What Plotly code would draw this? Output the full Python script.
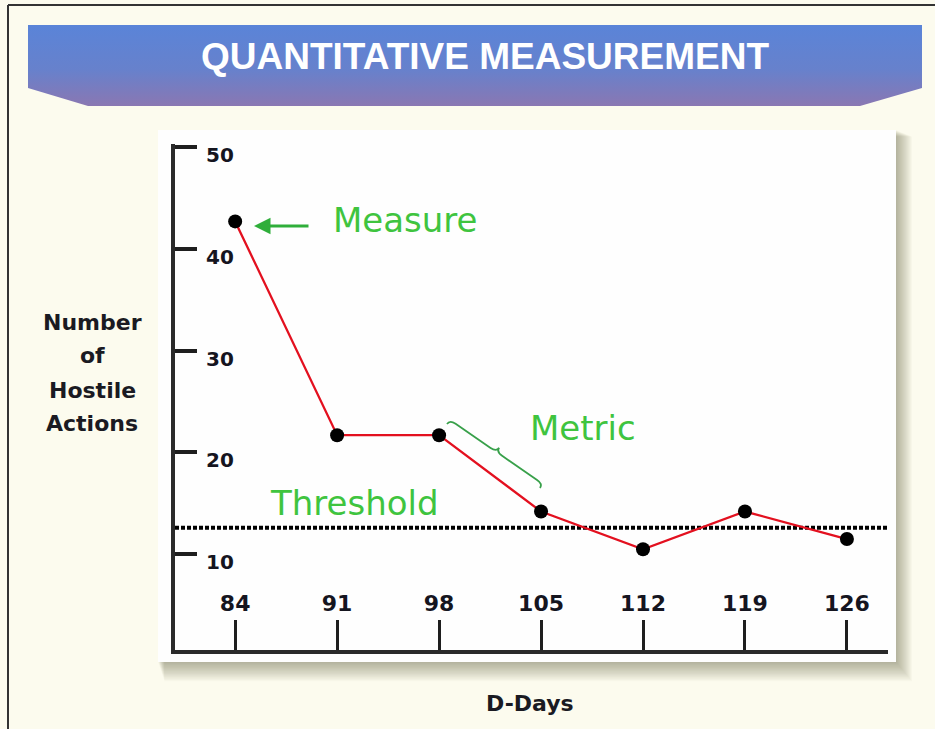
import math
import plotly.graph_objects as go

W, H = 935, 729

# ---------------- data ----------------
days = [84, 91, 98, 105, 112, 119, 126]
hostile_actions = [42.7, 21.7, 21.7, 14.2, 10.5, 14.2, 11.5]
threshold = 12.6
y_ticks = [10, 20, 30, 40, 50]

title_text = "QUANTITATIVE MEASUREMENT"
y_title_lines = ["Number", "of", "Hostile", "Actions"]
x_title = "D-Days"
label_measure = "Measure"
label_metric = "Metric"
label_threshold = "Threshold"

# ---------------- helpers (pixel -> paper) ----------------
def px(x):
    return x / W


def py(y):
    return 1 - y / H


L, R, T, B = 175, 888, 144, 650  # plot area in pixels

GREEN = "#3fc43f"
TXT = "#15151f"

fig = go.Figure()

# data line
fig.add_trace(go.Scatter(
    x=days, y=hostile_actions, mode="lines+markers",
    line=dict(color="#e3101f", width=2.3),
    marker=dict(color="black", size=14),
    xaxis="x", yaxis="y", showlegend=False, hoverinfo="skip",
))

# banner (decoration, overlay axes in pixel units)
banner_x = [28, 922, 922, 860, 88, 28, 28]
banner_y = [25, 25, 88, 106, 106, 88, 25]
fig.add_trace(go.Scatter(
    x=banner_x, y=banner_y, fill="toself", mode="lines",
    line=dict(width=0, color="rgba(0,0,0,0)"),
    fillgradient=dict(type="vertical",
                      colorscale=[[0, "#5a84d8"], [0.55, "#6781cc"], [1, "#8a77b2"]],
                      start=25, stop=106),
    xaxis="x2", yaxis="y2", showlegend=False, hoverinfo="skip",
))

shapes = []
# frame lines
shapes.append(dict(type="line", xref="paper", yref="paper", x0=px(8), x1=px(8), y0=py(5), y1=0,
                   line=dict(color="#333333", width=2), layer="below"))
shapes.append(dict(type="line", xref="paper", yref="paper", x0=px(8), x1=1, y0=py(5), y1=py(5),
                   line=dict(color="#333333", width=2), layer="below"))

# shadow of white panel
bx0, by0, bx1, by1 = 158, 130, 896, 662
for i in range(1, 17):
    shapes.append(dict(type="rect", xref="paper", yref="paper",
                       x0=px(bx0 + i * 0.4), x1=px(bx1 + i * 1.0),
                       y0=py(by0 + i * 0.4), y1=py(by1 + i * 1.2),
                       fillcolor="rgba(60,60,40,0.028)", line=dict(width=0), layer="below"))
# white panel
shapes.append(dict(type="rect", xref="paper", yref="paper",
                   x0=px(bx0), x1=px(bx1), y0=py(by0), y1=py(by1),
                   fillcolor="#fefefe", line=dict(width=0), layer="below"))

# threshold dotted line
shapes.append(dict(type="line", xref="x domain", yref="y", x0=0, x1=1, y0=threshold, y1=threshold,
                   line=dict(color="black", width=4, dash="4px,2px"), layer="below"))

# brace (decoration) -- built in a local frame along the segment A->B
A = (447, 424)
Bp = (540, 488)
dx, dy = Bp[0] - A[0], Bp[1] - A[1]
Lb = math.hypot(dx, dy)
u = (dx / Lb, dy / Lb)
n = (u[1], -u[0])  # points up-right


def loc(s, t):
    return (A[0] + u[0] * s + n[0] * t, A[1] + u[1] * s + n[1] * t)


def P(s, t):
    x, y = loc(s, t)
    return f"{px(x):.5f},{py(y):.5f}"


h = Lb / 2
path = (f"M{P(0,0)} Q{P(0,5)} {P(7,5)} L{P(h-7,5)} Q{P(h,5)} {P(h,10)} "
        f"Q{P(h,5)} {P(h+7,5)} L{P(Lb-7,5)} Q{P(Lb,5)} {P(Lb,0)}")
shapes.append(dict(type="path", xref="paper", yref="paper", path=path,
                   line=dict(color="#38a04a", width=1.8)))

annotations = []
# title
annotations.append(dict(xref="paper", yref="paper", x=px(485), y=py(56), text=title_text,
                        showarrow=False, xanchor="center", yanchor="middle",
                        font=dict(family="Liberation Sans, Arial", size=37, color="white", weight="bold")))
# y tick labels (drawn on the y scale, right of the inside ticks)
for v in y_ticks:
    annotations.append(dict(xref="paper", yref="y", x=px(204), y=v, text=str(v),
                            showarrow=False, xanchor="left", yanchor="middle", yshift=-8,
                            font=dict(family="DejaVu Sans", size=20, color=TXT, weight="bold")))
# y title lines
for txt, yy in zip(y_title_lines, [322, 356, 390, 423]):
    annotations.append(dict(xref="paper", yref="paper", x=px(92), y=py(yy), text=txt,
                            showarrow=False, xanchor="center", yanchor="middle",
                            font=dict(family="DejaVu Sans", size=22, color="#1a1a22", weight="bold")))
# x title
annotations.append(dict(xref="paper", yref="paper", x=px(530), y=py(703), text=x_title,
                        showarrow=False, xanchor="center", yanchor="middle",
                        font=dict(family="DejaVu Sans", size=22, color="#1a1a22", weight="bold")))
# green labels
for txt, xx, yy in [(label_measure, 405, 220), (label_metric, 583, 428), (label_threshold, 354, 503)]:
    annotations.append(dict(xref="paper", yref="paper", x=px(xx), y=py(yy), text=txt,
                            showarrow=False, xanchor="center", yanchor="middle",
                            font=dict(family="DejaVu Sans", size=34, color=GREEN)))
# arrow pointing to first measure
annotations.append(dict(xref="paper", yref="paper", x=px(254), y=py(226), text="",
                        showarrow=True, ax=56, ay=0, arrowhead=2, arrowsize=1.1,
                        arrowwidth=3, arrowcolor="#2fae3a"))

fig.update_layout(
    width=W, height=H,
    margin=dict(l=0, r=0, t=0, b=0),
    paper_bgcolor="#fcfbee",
    plot_bgcolor="rgba(0,0,0,0)",
    showlegend=False,
    shapes=shapes,
    annotations=annotations,
    xaxis=dict(domain=[px(L), px(R)], range=[79.87, 128.82], anchor="y",
               tickvals=days, ticktext=[str(d) for d in days],
               ticks="inside", ticklen=30, tickwidth=3, tickcolor="#1e1e1e",
               ticklabelposition="inside", ticklabelstandoff=6,
               showline=True, linewidth=4, linecolor="#2a2a2a",
               showgrid=False, zeroline=False, fixedrange=True,
               tickfont=dict(family="DejaVu Sans", size=22, color=TXT, weight="bold")),
    yaxis=dict(domain=[py(B), py(T)], range=[0.6, 50.3], anchor="x",
               tickvals=y_ticks, showticklabels=False,
               ticks="inside", ticklen=22, tickwidth=4, tickcolor="#1e1e1e",
               showline=True, linewidth=4, linecolor="#2a2a2a",
               showgrid=False, zeroline=False, fixedrange=True),
    xaxis2=dict(domain=[0, 1], range=[0, W], anchor="y2", visible=False, fixedrange=True),
    yaxis2=dict(domain=[0, 1], range=[H, 0], anchor="x2", visible=False, fixedrange=True),
)

fig.write_html("out.html", config={"displayModeBar": False},
               post_script="document.body.style.margin='0';")
